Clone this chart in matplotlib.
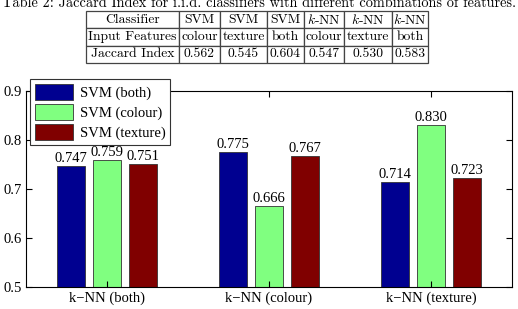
import matplotlib
matplotlib.use("Agg")
import matplotlib.pyplot as plt
import numpy as np

# data for the bar chart
groups = ["k\u2212NN (both)", "k\u2212NN (colour)", "k\u2212NN (texture)"]
series_names = ["SVM (both)", "SVM (colour)", "SVM (texture)"]
svm_both = [0.747, 0.775, 0.714]
svm_colour = [0.759, 0.666, 0.830]
svm_texture = [0.751, 0.767, 0.723]
colors = ["#000090", "#80FF80", "#800000"]

# data for the table above
table_title = "Table 2: Jaccard Index for i.i.d. classifiers with different combinations of features."
classifiers = ["Classifier", "SVM", "SVM", "SVM", "$k$-NN", "$k$-NN", "$k$-NN"]
features = ["Input Features", "colour", "texture", "both", "colour", "texture", "both"]
jaccard = ["Jaccard Index", "0.562", "0.545", "0.604", "0.547", "0.530", "0.583"]
col_widths = [93, 41, 47, 37, 40, 48, 36]

plt.rcParams["font.family"] = ["Liberation Serif", "DejaVu Serif"]
plt.rcParams["mathtext.fontset"] = "cm"

fig = plt.figure(figsize=(5.18, 3.09), dpi=100)
W, H = 518, 309

# table title (cut off at top like the reference)
fig.text(0.5, 1 - 3 / H, table_title, ha="center", va="center",
         fontsize=10.3, family="cmr10")

tax = fig.add_axes([86 / W, 1 - 63 / H, 342 / W, 52 / H])
tax.axis("off")
tot = sum(col_widths)
tbl = tax.table(cellText=[classifiers, features, jaccard],
                colWidths=[c / tot for c in col_widths],
                cellLoc="center", bbox=[0, 0, 1, 1])
tbl.auto_set_font_size(False)
for (r, c), cell in tbl.get_celld().items():
    cell.set_linewidth(0.9)
    cell.set_edgecolor("#444444")
    cell.PAD = 0.02
    cell.get_text().set_fontsize(9.8)
    cell.get_text().set_family("cmr10")

# bar chart
ax = fig.add_axes([26 / W, 1 - 287 / H, 486 / W, 196 / H])
x = np.arange(1, len(groups) + 1)
width = 0.176
offset = 0.222
all_series = [svm_both, svm_colour, svm_texture]
for i, (vals, name) in enumerate(zip(all_series, series_names)):
    bars = ax.bar(x + (i - 1) * offset, vals, width, color=colors[i],
                  edgecolor="#333333", linewidth=0.6, label=name)
    for b, v in zip(bars, vals):
        ax.text(b.get_x() + b.get_width() / 2, v + 0.002, "%.3f" % v,
                ha="center", va="bottom", fontsize=10.5)

ax.set_xlim(0.5, 3.5)
ax.set_ylim(0.5, 0.9)
ax.set_yticks([0.5, 0.6, 0.7, 0.8, 0.9])
ax.set_yticklabels(["0.5", "0.6", "0.7", "0.8", "0.9"])
ax.set_xticks(x)
ax.set_xticklabels(groups)
ax.tick_params(direction="in", top=True, right=True, labelsize=10.5,
               length=4, width=0.8, pad=3)
for s in ax.spines.values():
    s.set_linewidth(0.8)

leg = ax.legend(loc="upper left", bbox_to_anchor=(30 / W, 1 - 79 / H),
                bbox_transform=fig.transFigure, fontsize=10.5, fancybox=False,
                edgecolor="#333333", framealpha=1, borderaxespad=0,
                handlelength=2.6, handleheight=1.25, labelspacing=0.3,
                borderpad=0.35, handletextpad=0.45)
leg.get_frame().set_linewidth(0.8)

fig.savefig("out.png", dpi=100)
